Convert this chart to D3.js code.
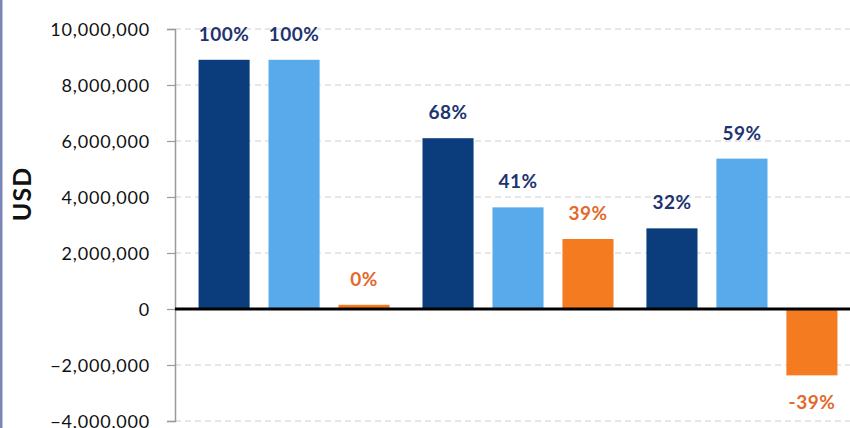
<!DOCTYPE html>
<html>
<head>
<meta charset="utf-8">
<script src="https://cdn.jsdelivr.net/npm/d3@7"></script>
<style>
  html, body { margin: 0; padding: 0; background: #ffffff; }
  svg { display: block; }
</style>
</head>
<body>
<svg id="chart" width="850" height="428"></svg>
<script>
// ---- data ----
const groups = ["Group 1", "Group 2", "Group 3"];
const seriesNames = ["Series A", "Series B", "Series C"];
const seriesA = [8900000, 6100000, 2880000];
const seriesB = [8900000, 3630000, 5370000];
const seriesC = [150000, 2500000, -2370000];
const labelsA = ["100%", "68%", "32%"];
const labelsB = ["100%", "41%", "59%"];
const labelsC = ["0%", "39%", "-39%"];
const yTicks = [-4000000, -2000000, 0, 2000000, 4000000, 6000000, 8000000, 10000000];
const yTitle = "USD";

const seriesValues = [seriesA, seriesB, seriesC];
const seriesLabels = [labelsA, labelsB, labelsC];
const barColors = ["#0b3c7c", "#58aaea", "#f57b20"];
const labelColors = ["#1d3470", "#1d3470", "#e4692c"];

const rows = [];
groups.forEach((g, gi) => {
  seriesNames.forEach((s, si) => {
    rows.push({ group: g, series: s, si, value: seriesValues[si][gi], label: seriesLabels[si][gi] });
  });
});

const svg = d3.select("#chart");
const W = 850, H = 428;
const left = 175;

const y = d3.scaleLinear().domain([-4000000, 10000000]).range([421, 29]);
const x0 = d3.scaleBand().domain(groups).range([171, 865]).paddingInner(0.147).paddingOuter(0.123);
const x1 = d3.scaleBand().domain(seriesNames).range([0, x0.bandwidth()]).paddingInner(0.27).paddingOuter(0);

// left border strip
svg.append("rect").attr("x", 0).attr("y", 0).attr("width", 2.5).attr("height", H).attr("fill", "#7a86b6");

// gridlines
svg.append("g")
  .selectAll("line")
  .data(yTicks.filter(t => t !== 0))
  .join("line")
  .attr("x1", left).attr("x2", W)
  .attr("y1", d => y(d)).attr("y2", d => y(d))
  .attr("stroke", "#cfcfcf").attr("stroke-width", 1)
  .attr("stroke-dasharray", "6,4");

// y axis
const yAxis = d3.axisLeft(y).tickValues(yTicks).tickSize(8).tickPadding(17)
  .tickFormat(d3.format(","));
const ag = svg.append("g").attr("transform", `translate(${left},0)`).call(yAxis);
ag.select(".domain").attr("stroke", "#9a9a9a").attr("stroke-width", 1.5);
ag.selectAll(".tick line").attr("stroke", "#9a9a9a").attr("stroke-width", 1.2);
ag.selectAll(".tick text")
  .attr("fill", "#111")
  .style("font-family", "Lato, 'Open Sans', sans-serif")
  .style("font-size", "18px")
  .style("letter-spacing", "0.8px")
  .attr("dy", "0.35em");

// bars
svg.append("g")
  .selectAll("rect")
  .data(rows)
  .join("rect")
  .attr("x", d => x0(d.group) + x1(d.series))
  .attr("width", x1.bandwidth())
  .attr("y", d => y(Math.max(0, d.value)))
  .attr("height", d => Math.abs(y(d.value) - y(0)))
  .attr("fill", d => barColors[d.si]);

// zero line
svg.append("line")
  .attr("x1", left).attr("x2", W)
  .attr("y1", y(0)).attr("y2", y(0))
  .attr("stroke", "#000").attr("stroke-width", 3);

// value labels
svg.append("g")
  .selectAll("text")
  .data(rows)
  .join("text")
  .attr("x", d => x0(d.group) + x1(d.series) + x1.bandwidth() / 2)
  .attr("y", d => d.value >= 0 ? y(d.value) - 19 : y(d.value) + 34)
  .attr("text-anchor", "middle")
  .attr("fill", d => labelColors[d.si])
  .style("font-family", "Lato, 'Open Sans', sans-serif")
  .style("font-size", "19px")
  .style("font-weight", "700")
  .style("letter-spacing", "0.5px")
  .text(d => d.label);

// y title
svg.append("text")
  .attr("transform", `translate(31,194) rotate(-90)`)
  .attr("text-anchor", "middle")
  .attr("fill", "#111")
  .style("font-family", "Lato, 'Open Sans', sans-serif")
  .style("font-size", "25px")
  .style("font-weight", "700")
  .style("letter-spacing", "1px")
  .text(yTitle);
</script>
</body>
</html>
